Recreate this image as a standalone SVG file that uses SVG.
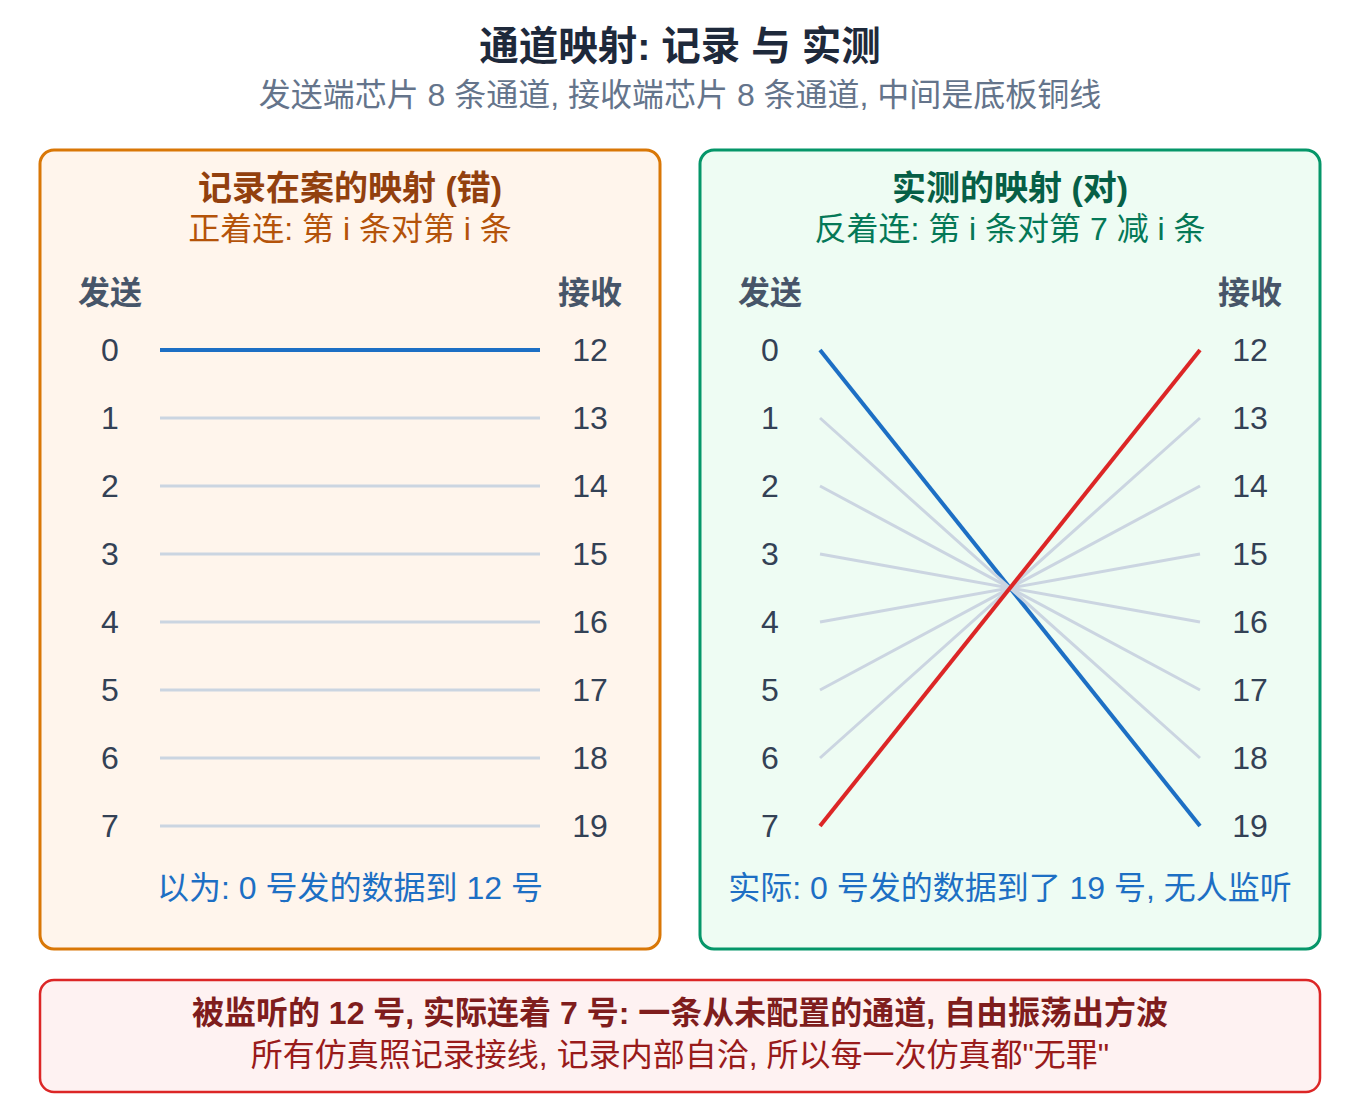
<svg xmlns="http://www.w3.org/2000/svg" width="1360" height="1120" viewBox="0 0 1360 1120">
<style>
text{font-family:"Liberation Sans","Noto Sans CJK SC",sans-serif;text-anchor:middle;dominant-baseline:central}
.title{font-size:39.5px;font-weight:bold;fill:#1e293b}
.sub{font-size:32px;fill:#64748b}
.ptl{font-size:34px;font-weight:bold;fill:#92400e}
.pts{font-size:32px;fill:#b45309}
.ptr{font-size:34px;font-weight:bold;fill:#065f46}
.psr{font-size:32px;fill:#047857}
.hd{font-size:32px;font-weight:bold;fill:#475569}
.num{font-size:32px;fill:#334155}
.note{font-size:32px;fill:#1d6fc4}
.b1{font-size:32px;font-weight:bold;fill:#7f1d1d}
.b2{font-size:32px;fill:#991b1b}
.ln{stroke:#cbd5e1;stroke-width:3;fill:none}
.blue{stroke:#1d6fc4;stroke-width:4;fill:none}
.red{stroke:#dc2626;stroke-width:4;fill:none}
</style>
<rect width="1360" height="1120" fill="#ffffff"/>
<text class="title" x="680" y="46">通道映射: 记录 与 实测</text>
<text class="sub" x="680" y="95">发送端芯片 8 条通道, 接收端芯片 8 条通道, 中间是底板铜线</text>

<g id="panel-recorded">
<rect x="40" y="150" width="620" height="799" rx="14" fill="#fff5ec" stroke="#d97706" stroke-width="3"/>
<text class="ptl" x="350" y="188">记录在案的映射 (错)</text>
<text class="pts" x="350" y="229">正着连: 第 i 条对第 i 条</text>
<text class="hd" x="110" y="293">发送</text>
<text class="hd" x="590" y="293">接收</text>
<text class="num" x="110" y="350">0</text><text class="num" x="110" y="418">1</text><text class="num" x="110" y="486">2</text><text class="num" x="110" y="554">3</text>
<text class="num" x="110" y="622">4</text><text class="num" x="110" y="690">5</text><text class="num" x="110" y="758">6</text><text class="num" x="110" y="826">7</text>
<text class="num" x="590" y="350">12</text><text class="num" x="590" y="418">13</text><text class="num" x="590" y="486">14</text><text class="num" x="590" y="554">15</text>
<text class="num" x="590" y="622">16</text><text class="num" x="590" y="690">17</text><text class="num" x="590" y="758">18</text><text class="num" x="590" y="826">19</text>
<text class="note" x="350" y="888">以为: 0 号发的数据到 12 号</text>
</g>

<g id="panel-measured">
<rect x="700" y="150" width="620" height="799" rx="14" fill="#eefcf3" stroke="#059669" stroke-width="3"/>
<text class="ptr" x="1010" y="188">实测的映射 (对)</text>
<text class="psr" x="1010" y="229">反着连: 第 i 条对第 7 减 i 条</text>
<text class="hd" x="770" y="293">发送</text>
<text class="hd" x="1250" y="293">接收</text>
<text class="num" x="770" y="350">0</text><text class="num" x="770" y="418">1</text><text class="num" x="770" y="486">2</text><text class="num" x="770" y="554">3</text>
<text class="num" x="770" y="622">4</text><text class="num" x="770" y="690">5</text><text class="num" x="770" y="758">6</text><text class="num" x="770" y="826">7</text>
<text class="num" x="1250" y="350">12</text><text class="num" x="1250" y="418">13</text><text class="num" x="1250" y="486">14</text><text class="num" x="1250" y="554">15</text>
<text class="num" x="1250" y="622">16</text><text class="num" x="1250" y="690">17</text><text class="num" x="1250" y="758">18</text><text class="num" x="1250" y="826">19</text>
<text class="note" x="1010" y="888">实际: 0 号发的数据到了 19 号, 无人监听</text>
</g>

<g id="connectors">
<line class="ln" x1="160" y1="418" x2="540" y2="418"/>
<line class="ln" x1="160" y1="486" x2="540" y2="486"/>
<line class="ln" x1="160" y1="554" x2="540" y2="554"/>
<line class="ln" x1="160" y1="622" x2="540" y2="622"/>
<line class="ln" x1="160" y1="690" x2="540" y2="690"/>
<line class="ln" x1="160" y1="758" x2="540" y2="758"/>
<line class="ln" x1="160" y1="826" x2="540" y2="826"/>
<line class="blue" x1="160" y1="350" x2="540" y2="350"/>
<line class="blue" x1="820" y1="350" x2="1200" y2="826"/>
<line class="ln" x1="820" y1="418" x2="1200" y2="758"/>
<line class="ln" x1="820" y1="486" x2="1200" y2="690"/>
<line class="ln" x1="820" y1="554" x2="1200" y2="622"/>
<line class="ln" x1="820" y1="622" x2="1200" y2="554"/>
<line class="ln" x1="820" y1="690" x2="1200" y2="486"/>
<line class="ln" x1="820" y1="758" x2="1200" y2="418"/>
<line class="red" x1="820" y1="826" x2="1200" y2="350"/>
</g>

<g id="summary">
<rect x="40" y="980" width="1280" height="112" rx="14" fill="#fef2f2" stroke="#dc2626" stroke-width="2.5"/>
<text class="b1" x="680" y="1013">被监听的 12 号, 实际连着 7 号: 一条从未配置的通道, 自由振荡出方波</text>
<text class="b2" x="680" y="1055">所有仿真照记录接线, 记录内部自洽, 所以每一次仿真都"无罪"</text>
</g>
</svg>
